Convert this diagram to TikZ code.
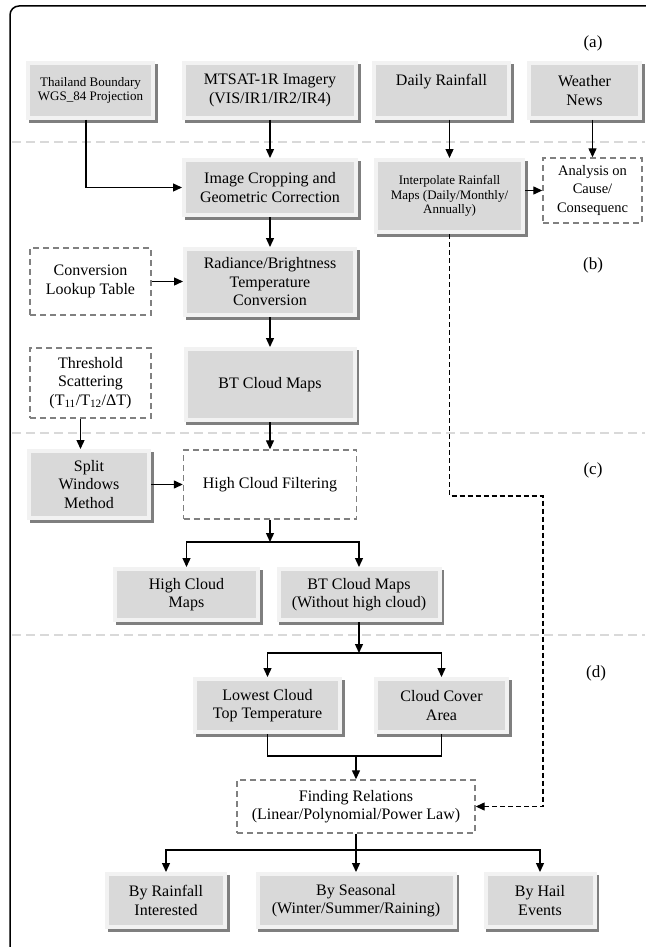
\documentclass[tikz,border=0pt]{standalone}
\usepackage{fontspec}
\setmainfont{Liberation Serif}
\usetikzlibrary{arrows.meta,calc}
\definecolor{boxfill}{HTML}{D9D9D9}
\definecolor{boxedge}{HTML}{F2F2F2}
\definecolor{shd}{HTML}{7F7F7F}
\definecolor{dashc}{HTML}{808080}
\definecolor{sepc}{HTML}{D9D9D9}
\newcommand{\normalfs}{\fontsize{16}{18.5}\selectfont}
\newcommand{\smallfs}{\fontsize{13}{14.7}\selectfont}
\newcommand{\midfs}{\fontsize{14.5}{18.3}\selectfont}
\begin{document}
\begin{tikzpicture}[x=1pt,y=-1pt,
  gbox/.style={fill=boxfill, draw=boxedge, line width=4pt, inner sep=0pt, align=center, font=\normalfs,
     preaction={fill=shd, draw=shd, transform canvas={xshift=2.5pt,yshift=-3pt}}},
  dbox/.style={draw=dashc, dash pattern=on 6pt off 4pt, line width=1.4pt, inner sep=0pt, align=center, font=\normalfs},
  conn/.style={line width=1.3pt, -{Triangle[length=9pt,width=8pt]}},
  dconn/.style={line width=1.3pt, dash pattern=on 5pt off 3pt, -{Triangle[length=9pt,width=8pt]}},
  plain/.style={line width=1.3pt},
  sep/.style={draw=sepc, line width=2pt, dash pattern=on 9pt off 5pt},
  lab/.style={font=\fontsize{17}{20}\selectfont}
]
\useasboundingbox (0,0) rectangle (645,947);
% frame
\draw[line width=1.5pt, rounded corners=9pt] (10,952) -- (10,6) -- (652,6);
% separators
\draw[sep] (12,142) -- (645,142);
\draw[sep] (12,433) -- (645,433);
\draw[sep] (12,635) -- (645,635);
% labels
\node[lab] (la) at (593,43) {(a)};
\node[lab] (lb) at (593,265) {(b)};
\node[lab] (lc) at (593,470) {(c)};
\node[lab] (ld) at (596,673) {(d)};
% row a
\node[gbox, font=\smallfs, minimum width=125pt, minimum height=55pt] (thai) at (90.5,90.5) {Thailand Boundary\\WGS\_84 Projection};
\node[gbox, minimum width=172pt, minimum height=55pt] (mtsat) at (270,90.5) {MTSAT-1R Imagery\\(VIS/IR1/IR2/IR4)};
\node[gbox, minimum width=135pt, minimum height=55pt] (daily) at (441.5,90.5) {Daily Rainfall\\\phantom{(Xy)}};
\node[gbox, minimum width=111pt, minimum height=55pt] (weather) at (584.5,90.5) {Weather\\News};
% row b
\node[gbox, minimum width=172pt, minimum height=55pt] (crop) at (270,187.5) {Image Cropping and\\Geometric Correction};
\node[gbox, font=\smallfs, minimum width=147pt, minimum height=72pt] (interp) at (449.5,196) {Interpolate Rainfall\\Maps (Daily/Monthly/\\Annually)};
\node[dbox, font=\midfs, minimum width=99pt, minimum height=65pt] (anal) at (592.5,190.5) {Analysis on\\Cause/\\Consequenc};
\node[dbox, minimum width=121pt, minimum height=67pt] (conv) at (90.5,281.5) {Conversion\\Lookup Table};
\node[gbox, minimum width=170pt, minimum height=66pt] (rad) at (270,282) {Radiance/Brightness\\Temperature\\Conversion};
\node[dbox, minimum width=121pt, minimum height=70pt] (thresh) at (90.5,383) {Threshold\\Scattering\\(T\textsubscript{11}/T\textsubscript{12}/ΔT)};
\node[gbox, minimum width=169pt, minimum height=71pt] (bt) at (270,384.5) {BT Cloud Maps};
% row c
\node[gbox, minimum width=120pt, minimum height=67pt] (split) at (89,484.5) {Split\\Windows\\Method};
\node[dbox, minimum width=173pt, minimum height=69pt] (hcf) at (270,484.5) {High Cloud Filtering};
\node[gbox, minimum width=143pt, minimum height=51pt] (hcm) at (186.5,594.5) {High Cloud\\Maps};
\node[gbox, minimum width=161pt, minimum height=51pt] (btw) at (359,594.5) {BT Cloud Maps\\(Without high cloud)};
% row d
\node[gbox, minimum width=145pt, minimum height=53pt] (low) at (267.5,705.5) {Lowest Cloud\\Top Temperature};
\node[gbox, minimum width=131pt, minimum height=53pt] (cca) at (441.5,705.5) {Cloud Cover\\Area};
\node[dbox, minimum width=238pt, minimum height=53pt] (find) at (356,806.5) {Finding Relations\\(Linear/Polynomial/Power Law)};
\node[gbox, minimum width=118pt, minimum height=53pt] (rain) at (166,900.5) {By Rainfall\\Interested};
\node[gbox, minimum width=197pt, minimum height=53pt] (seas) at (356,900.5) {By Seasonal\\(Winter/Summer/Raining)};
\node[gbox, minimum width=109pt, minimum height=53pt] (hail) at (540,900.5) {By Hail\\Events};
% junction coordinates
\coordinate (j1) at (270,542);
\coordinate (j2) at (359,653);
\coordinate (j3) at (356,756);
\coordinate (j4) at (356,850);
\coordinate (d1) at (543,496);
% connectors
\draw[conn] ([xshift=-4.5pt]thai.south) |- (crop.west);
\draw[conn] (mtsat.south) -- (crop.north);
\draw[conn] (daily.south -| interp.north) -- (interp.north);
\draw[conn] (weather.south -| anal.north) -- (anal.north);
\draw[conn] (interp.east |- anal.west) -- (anal.west);
\draw[conn] (crop.south) -- (rad.north);
\draw[conn] (conv.east) -- (conv.east -| rad.west);
\draw[conn] (rad.south) -- (bt.north);
\draw[conn] ([xshift=-10pt]thresh.south) -- ([xshift=-10pt]thresh.south |- split.north);
\draw[conn] (bt.south) -- (hcf.north);
\draw[conn] (split.east) -- (split.east -| hcf.west);
\draw[conn] (hcf.south) -- (j1);
\draw[conn] (j1) -| (hcm.north);
\draw[conn] (j1) -| (btw.north);
\draw[conn] (btw.south) -- (j2);
\draw[conn] (j2) -| (low.north);
\draw[conn] (j2) -| (cca.north);
\draw[plain] (low.south) |- (j3) -| (cca.south);
\draw[conn] (j3) -- (find.north);
\draw[plain] (find.south) -- (j4);
\draw[conn] (j4) -| (rain.north);
\draw[conn] (j4) -- (seas.north);
\draw[conn] (j4) -| (hail.north);
\draw[dconn] (interp.south) |- (d1) |- (find.east);
\end{tikzpicture}
\end{document}
